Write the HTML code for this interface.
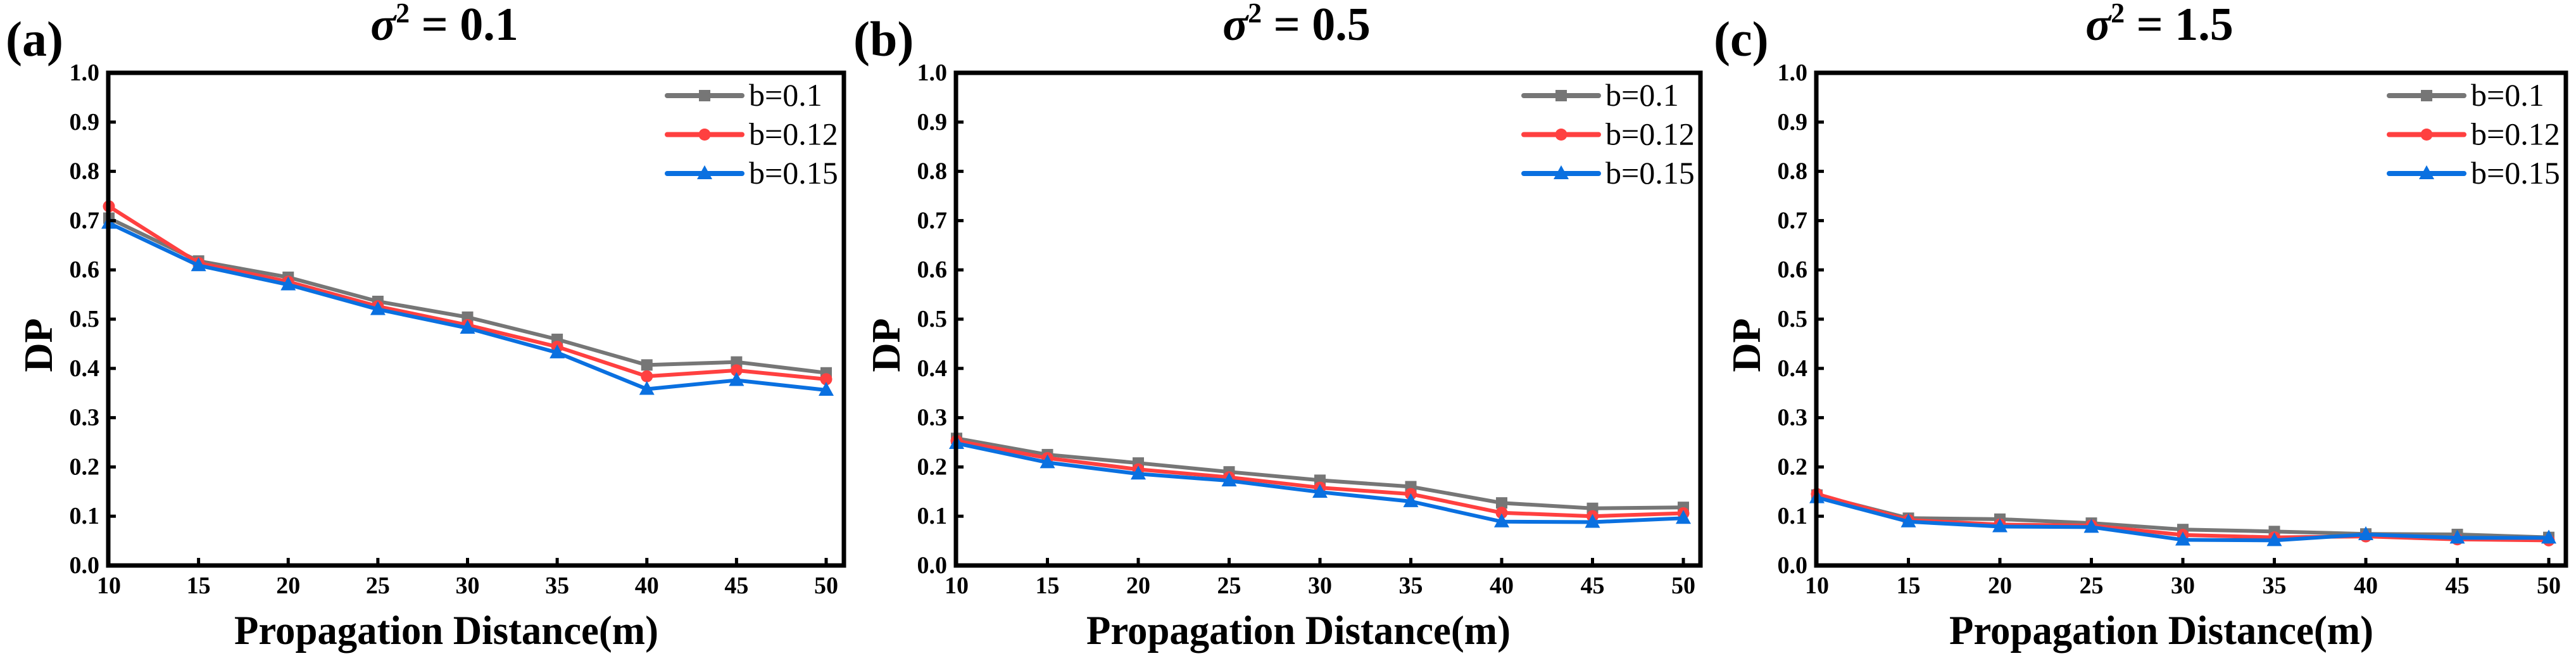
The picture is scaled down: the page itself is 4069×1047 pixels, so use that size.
<!DOCTYPE html>
<html><head><meta charset="utf-8"><style>
html,body{margin:0;padding:0;background:#fff;}
svg{display:block;}
text{font-family:"Liberation Serif","DejaVu Serif",serif;}
</style></head><body>
<svg id="chart" width="4069" height="1047" viewBox="0 0 4069 1047" xmlns="http://www.w3.org/2000/svg"></svg>
<script>
const xCategories = [10, 15, 20, 25, 30, 35, 40, 45, 50];
const yTicks = [0.0, 0.1, 0.2, 0.3, 0.4, 0.5, 0.6, 0.7, 0.8, 0.9, 1.0];
const seriesNames = ["b=0.1", "b=0.12", "b=0.15"];
const panelTitles = ["0.1", "0.5", "1.5"];
const panelLetters = ["(a)", "(b)", "(c)"];
const a_b010 = [0.705, 0.618, 0.585, 0.536, 0.504, 0.459, 0.407, 0.413, 0.391];
const a_b012 = [0.729, 0.614, 0.576, 0.526, 0.488, 0.444, 0.384, 0.396, 0.378];
const a_b015 = [0.695, 0.609, 0.570, 0.520, 0.482, 0.432, 0.358, 0.376, 0.356];
const b_b010 = [0.258, 0.225, 0.208, 0.190, 0.173, 0.160, 0.127, 0.116, 0.118];
const b_b012 = [0.253, 0.218, 0.195, 0.179, 0.158, 0.145, 0.107, 0.100, 0.106];
const b_b015 = [0.248, 0.209, 0.186, 0.172, 0.149, 0.130, 0.089, 0.088, 0.096];
const c_b010 = [0.143, 0.096, 0.094, 0.086, 0.073, 0.069, 0.064, 0.063, 0.057];
const c_b012 = [0.145, 0.092, 0.083, 0.081, 0.062, 0.057, 0.059, 0.053, 0.051];
const c_b015 = [0.138, 0.089, 0.079, 0.078, 0.052, 0.051, 0.063, 0.056, 0.056];

const NS = "http://www.w3.org/2000/svg";
const svg = document.getElementById('chart');
const colors = ["#767676", "#ff4040", "#0a70e0"];
const panels = [
  {x10:172, x50:1305, right:1333, data:[a_b010,a_b012,a_b015]},
  {x10:1511, x50:2659, right:2686, data:[b_b010,b_b012,b_b015]},
  {x10:2870, x50:4026, right:4053, data:[c_b010,c_b012,c_b015]}
];
const TOP = 115, BOT = 893;
function mk(tag, attrs, parent){
  const e = document.createElementNS(NS, tag);
  for (const k in attrs) e.setAttribute(k, attrs[k]);
  (parent||svg).appendChild(e);
  return e;
}
function marker(g, kind, cx, cy, color){
  let m;
  if (kind === 0) m = mk('rect', {x:cx-9, y:cy-9, width:18, height:18, fill:color}, g);
  else if (kind === 1) m = mk('circle', {cx:cx, cy:cy, r:9.5, fill:color}, g);
  else m = mk('polygon', {points:`${cx},${cy-13} ${cx-12},${cy+9} ${cx+12},${cy+9}`, fill:color}, g);
  return m;
}
panels.forEach((p, pi) => {
  const L = p.x10 - 1;
  const xs = v => p.x10 + (v - 10) * (p.x50 - p.x10) / 40;
  const ys = v => BOT - v * (BOT - TOP);
  const g = mk('g', {});
  
  
  const cx = (L + p.right) / 2 - 50;
  // letter
  const lt = mk('text', {x: L - 162, y: 88, 'font-size': 78, 'font-weight': 'bold'}, g);
  lt.textContent = panelLetters[pi];
  
  
  // title
  const tt = mk('text', {x: cx, y: 63, 'font-size': 74, 'font-weight': 'bold', 'text-anchor': 'middle'}, g);
  
  
  const s1 = mk('tspan', {'font-style': 'italic'}, tt); s1.textContent = 'σ';
  const s2 = mk('tspan', {'font-size': 44, dy: -28}, tt); s2.textContent = '2';
  const s3 = mk('tspan', {dy: 28}, tt); s3.textContent = ' = ' + panelTitles[pi];
  // series
  p.data.forEach((vals, si) => {
    const sg = mk('g', {}, g);
    
    
    const pts = vals.map((v, i) => xs(xCategories[i]) + ',' + ys(v)).join(' ');
    const pl = mk('polyline', {points: pts, fill: 'none', stroke: colors[si], 'stroke-width': 6, 'stroke-linejoin': 'round'}, sg);
    
    
    vals.forEach((v, i) => {
      const m = marker(sg, si, xs(xCategories[i]), ys(v), colors[si]);
      
      
    });
  });
  // frame
  const fr = mk('rect', {x: L, y: TOP, width: p.right - L, height: BOT - TOP, fill: 'none', stroke: '#000', 'stroke-width': 7}, g);
  
  
  // y ticks
  yTicks.forEach(v => {
    const y = ys(v);
    if (v > 0 && v < 1) {
      const tk = mk('line', {x1: L, x2: L + 12, y1: y, y2: y, stroke: '#000', 'stroke-width': 5}, g);
      
      
    }
    const tl = mk('text', {x: L - 14, y: y + 12, 'font-size': 38, 'font-weight': 'bold', 'text-anchor': 'end'}, g);
    tl.textContent = v.toFixed(1);
    
    
  });
  // x ticks
  xCategories.forEach(c => {
    const x = xs(c);
    if (c > 10) {
      const tk = mk('line', {x1: x, x2: x, y1: BOT, y2: BOT - 12, stroke: '#000', 'stroke-width': 5}, g);
      
      
    }
    const tl = mk('text', {x: x, y: 937, 'font-size': 38, 'font-weight': 'bold', 'text-anchor': 'middle'}, g);
    tl.textContent = c;
    
    
  });
  // axis titles
  const xt = mk('text', {x: cx + 3, y: 1017, 'font-size': 65, 'font-weight': 'bold', 'text-anchor': 'middle', textLength: 670, lengthAdjust: 'spacingAndGlyphs'}, g);
  xt.textContent = 'Propagation Distance(m)';
  
  
  const yt = mk('text', {x: 0, y: 0, 'font-size': 64, 'font-weight': 'bold', 'text-anchor': 'middle', transform: `translate(${L - 89},545) rotate(-90)`}, g);
  yt.textContent = 'DP';
  
  
  // legend
  const lg = mk('g', {}, g);
  
  
  seriesNames.forEach((nm, si) => {
    const ly = TOP + 36 + si * 61.5;
    const ent = mk('g', {}, lg);
    
    
    mk('line', {x1: p.right - 279, x2: p.right - 161, y1: ly, y2: ly, stroke: colors[si], 'stroke-width': 8, 'stroke-linecap': 'round'}, ent);
    marker(ent, si, p.right - 220, ly, colors[si]);
    const tx = mk('text', {x: p.right - 150, y: ly + 16, 'font-size': 50}, ent);
    tx.textContent = nm;
  });
});
</script>
</body></html>
